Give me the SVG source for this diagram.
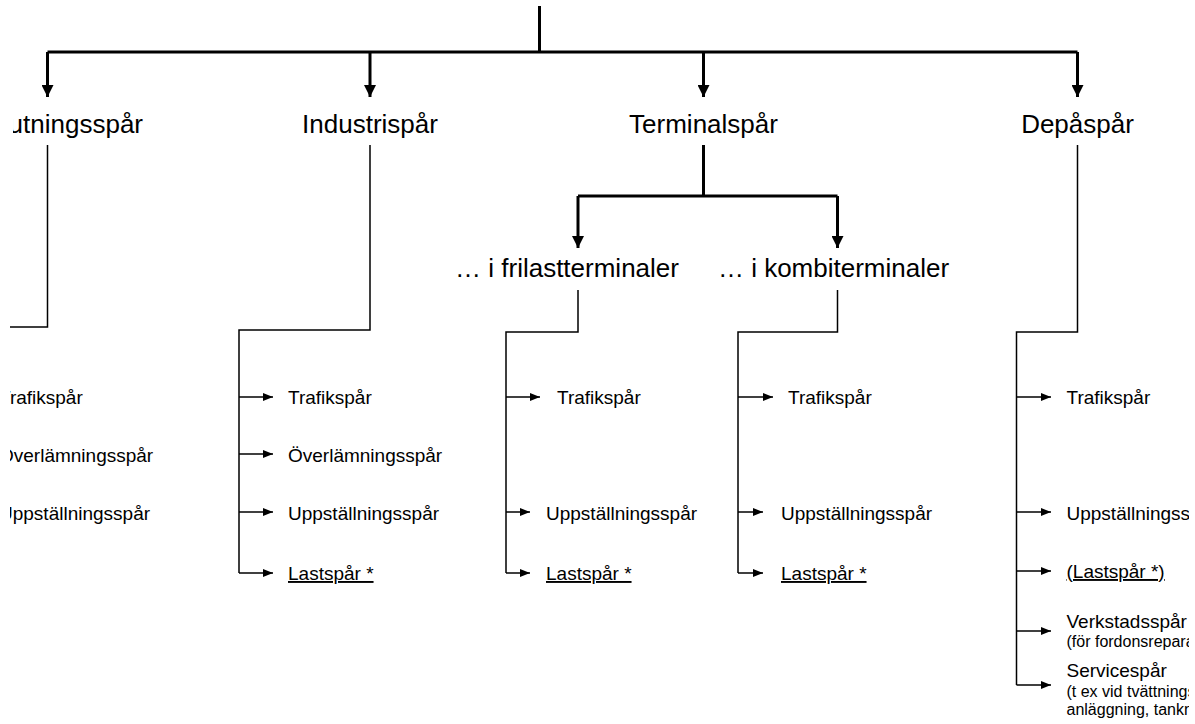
<svg xmlns="http://www.w3.org/2000/svg" width="1195" height="724" viewBox="0 0 1195 724">
  <style>
    text { font-family: "Liberation Sans", Arial, sans-serif; fill: #000; }
    .main { font-size: 26px; text-anchor: middle; }
    .item { font-size: 19px; }
    .note { font-size: 16px; }
    .u { text-decoration: underline; }
    .thick { stroke: #000; stroke-width: 3; fill: none; }
    .thin { stroke: #000; stroke-width: 1.5; fill: none; }
  </style>
  <defs>
    <marker id="bigArrow" viewBox="0 0 12 12" refX="12" refY="6" markerWidth="12" markerHeight="12" markerUnits="userSpaceOnUse" orient="auto">
      <path d="M0,0 L12,6 L0,12 Z" fill="#000"/>
    </marker>
    <marker id="smallArrow" viewBox="0 0 10 8" refX="10" refY="4" markerWidth="10" markerHeight="8" markerUnits="userSpaceOnUse" orient="auto">
      <path d="M0,0 L10,4 L0,8 Z" fill="#000"/>
    </marker>
    <!-- page margins: content runs past the left and right edges of the sheet -->
    <clipPath id="leftCut">
      <rect x="10" y="300" width="400" height="300"/>
    </clipPath>
    <clipPath id="leftTitleCut">
      <rect x="13" y="100" width="300" height="45"/>
    </clipPath>
    <clipPath id="rightCut">
      <rect x="1000" y="360" width="189" height="364"/>
    </clipPath>
  </defs>

  <rect width="1195" height="724" fill="#fff"/>

  <!-- connectors -->
  <g id="connectors">
    <!-- trunk and first level -->
    <path class="thick" d="M539.5,6 V52"/>
    <path class="thick" d="M47.5,52 H1077.5"/>
    <path class="thick" d="M47.5,52 V97" marker-end="url(#bigArrow)"/>
    <path class="thick" d="M370,52 V97" marker-end="url(#bigArrow)"/>
    <path class="thick" d="M703.5,52 V97" marker-end="url(#bigArrow)"/>
    <path class="thick" d="M1077.5,52 V97" marker-end="url(#bigArrow)"/>

    <!-- terminal split -->
    <path class="thick" d="M703.5,145 V196"/>
    <path class="thick" d="M578,196 H837.5"/>
    <path class="thick" d="M578,196 V248" marker-end="url(#bigArrow)"/>
    <path class="thick" d="M837.5,196 V248" marker-end="url(#bigArrow)"/>

    <!-- Anslutningsspår column -->
    <path class="thin" d="M47.5,145 V327 H10"/>

    <!-- Industrispår column -->
    <path class="thin" d="M370,145 V330 H239 V573"/>
    <path class="thin" d="M239,397 H273" marker-end="url(#smallArrow)"/>
    <path class="thin" d="M239,454 H273" marker-end="url(#smallArrow)"/>
    <path class="thin" d="M239,512 H273" marker-end="url(#smallArrow)"/>
    <path class="thin" d="M239,573 H273" marker-end="url(#smallArrow)"/>

    <!-- frilastterminaler column -->
    <path class="thin" d="M578,290 V332 H506 V573"/>
    <path class="thin" d="M506,397 H540" marker-end="url(#smallArrow)"/>
    <path class="thin" d="M506,512 H530" marker-end="url(#smallArrow)"/>
    <path class="thin" d="M506,573 H530" marker-end="url(#smallArrow)"/>

    <!-- kombiterminaler column -->
    <path class="thin" d="M837.5,290 V332 H738 V573"/>
    <path class="thin" d="M738,397 H773" marker-end="url(#smallArrow)"/>
    <path class="thin" d="M738,512 H763" marker-end="url(#smallArrow)"/>
    <path class="thin" d="M738,573 H763" marker-end="url(#smallArrow)"/>

    <!-- Depåspår column -->
    <path class="thin" d="M1077.5,145 V332 H1016.5 V685"/>
    <path class="thin" d="M1016.5,397 H1051" marker-end="url(#smallArrow)"/>
    <path class="thin" d="M1016.5,512 H1051" marker-end="url(#smallArrow)"/>
    <path class="thin" d="M1016.5,571 H1051" marker-end="url(#smallArrow)"/>
    <path class="thin" d="M1016.5,631 H1051" marker-end="url(#smallArrow)"/>
    <path class="thin" d="M1016.5,685 H1051" marker-end="url(#smallArrow)"/>
  </g>

  <!-- first level -->
  <g id="node-anslutningsspar" clip-path="url(#leftTitleCut)"><text class="main" x="143" y="133" style="text-anchor:end">Anslutningsspår</text></g>
  <g id="node-industrispar"><text class="main" x="370" y="133">Industrispår</text></g>
  <g id="node-terminalspar"><text class="main" x="703.5" y="133">Terminalspår</text></g>
  <g id="node-depaspar"><text class="main" x="1077.5" y="133">Depåspår</text></g>

  <!-- terminal sub-types -->
  <g id="node-frilast"><text class="main" x="567" y="277">… i frilastterminaler</text></g>
  <g id="node-kombi"><text class="main" x="833.5" y="277">… i kombiterminaler</text></g>

  <!-- Anslutningsspår items -->
  <g id="list-anslutning" clip-path="url(#leftCut)">
    <text class="item" x="-1" y="404">Trafikspår</text>
    <text class="item" x="-1" y="462">Överlämningsspår</text>
    <text class="item" x="-1" y="520">Uppställningsspår</text>
  </g>

  <!-- Industrispår items -->
  <g id="list-industri">
    <text class="item" x="288" y="404">Trafikspår</text>
    <text class="item" x="288" y="462">Överlämningsspår</text>
    <text class="item" x="288" y="520">Uppställningsspår</text>
    <text class="item u" x="288" y="580">Lastspår *</text>
  </g>

  <!-- frilastterminaler items -->
  <g id="list-frilast">
    <text class="item" x="557" y="404">Trafikspår</text>
    <text class="item" x="546" y="520">Uppställningsspår</text>
    <text class="item u" x="546" y="580">Lastspår *</text>
  </g>

  <!-- kombiterminaler items -->
  <g id="list-kombi">
    <text class="item" x="788" y="404">Trafikspår</text>
    <text class="item" x="781" y="520">Uppställningsspår</text>
    <text class="item u" x="781" y="580">Lastspår *</text>
  </g>

  <!-- Depåspår items -->
  <g id="list-depa" clip-path="url(#rightCut)">
    <text class="item" x="1066.5" y="404">Trafikspår</text>
    <text class="item" x="1066.5" y="520">Uppställningsspår</text>
    <text class="item u" x="1066.5" y="578">(Lastspår *)</text>
    <text class="item" x="1066.5" y="628">Verkstadsspår</text>
    <text class="note" x="1066.5" y="647">(för fordonsreparationer)</text>
    <text class="item" x="1066.5" y="677">Servicespår</text>
    <text class="note" x="1066.5" y="697">(t ex vid tvättnings-</text>
    <text class="note" x="1066.5" y="715">anläggning, tankning)</text>
  </g>
</svg>
